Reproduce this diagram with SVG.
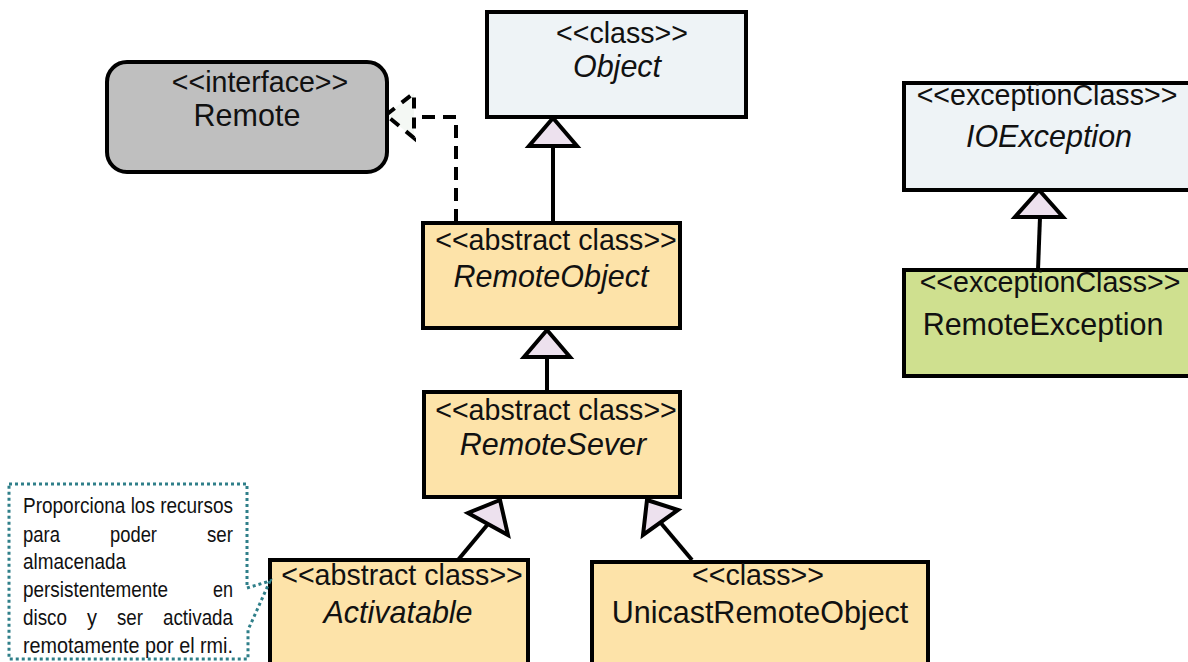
<svg xmlns="http://www.w3.org/2000/svg" width="1188" height="662" viewBox="0 0 1188 662">
  <style>
    .box { stroke: #000; stroke-width: 4; }
    .blue { fill: #eef3f6; }
    .orange { fill: #fde3a9; }
    .green { fill: #cfe08f; }
    .gray { fill: #bfbfbf; }
    .st { font-family: "Liberation Sans", Arial, sans-serif; font-size: 28.6px; fill: #111; text-anchor: middle; }
    .nm { font-family: "Liberation Sans", Arial, sans-serif; font-size: 30.5px; fill: #111; text-anchor: middle; }
    .it { font-style: italic; }
    .line { stroke: #000; stroke-width: 4; fill: none; }
    .tri { fill: #ede1ee; stroke: #000; stroke-width: 4; stroke-linejoin: miter; }
    .dash { stroke: #000; stroke-width: 4; fill: none; stroke-dasharray: 13 8; }
    .note { fill: none; stroke: #2f7f89; stroke-width: 3; stroke-dasharray: 3 3; }
    .nt { font-family: "Liberation Sans Narrow", "Liberation Sans", Arial, sans-serif; font-size: 22px; fill: #111; }
  </style>

  <!-- connectors -->
  <g id="connectors">
    <!-- Object <- RemoteObject -->
    <line class="line" x1="553" y1="146" x2="553" y2="222"/>
    <polygon class="tri" points="553,118 529,146 577,146"/>
    <!-- RemoteObject <- RemoteSever -->
    <line class="line" x1="547" y1="357" x2="547" y2="391"/>
    <polygon class="tri" points="547,330 524,357 570,357"/>
    <!-- RemoteSever <- Activatable -->
    <line class="line" x1="458" y1="560" x2="488" y2="524"/>
    <polygon class="tri" points="500,500 468,513 508,535"/>
    <!-- RemoteSever <- UnicastRemoteObject -->
    <line class="line" x1="692" y1="560" x2="660" y2="522"/>
    <polygon class="tri" points="647,500 678,510 643,535"/>
    <!-- IOException <- RemoteException -->
    <line class="line" x1="1038" y1="270" x2="1040" y2="217"/>
    <polygon class="tri" points="1039,190 1015,217 1063,217"/>
    <!-- RemoteObject realizes Remote -->
    <polyline class="dash" points="456,222 456,117 413,117"/>
    <polygon points="386,115 414,93 414,138" fill="#f4f8f4" stroke="#000" stroke-width="4" stroke-dasharray="11 9"/>
  </g>

  <g id="remote">
    <rect class="box gray" x="107" y="62" width="280" height="110" rx="20"/>
    <text class="st" x="260" y="92">&lt;&lt;interface&gt;&gt;</text>
    <text class="nm" x="247" y="126">Remote</text>
  </g>

  <g id="object">
    <rect class="box blue" x="487" y="12" width="259" height="105"/>
    <text class="st" x="622" y="43">&lt;&lt;class&gt;&gt;</text>
    <text class="nm it" x="617" y="77">Object</text>
  </g>

  <g id="remoteObject">
    <rect class="box orange" x="423" y="223" width="257" height="105"/>
    <text class="st" x="556" y="250">&lt;&lt;abstract class&gt;&gt;</text>
    <text class="nm it" x="551" y="287">RemoteObject</text>
  </g>

  <g id="remoteSever">
    <rect class="box orange" x="424" y="392" width="256" height="105"/>
    <text class="st" x="556" y="420">&lt;&lt;abstract class&gt;&gt;</text>
    <text class="nm it" x="553" y="455">RemoteSever</text>
  </g>

  <g id="activatable">
    <rect class="box orange" x="270" y="560" width="258" height="110"/>
    <text class="st" x="402" y="585">&lt;&lt;abstract class&gt;&gt;</text>
    <text class="nm it" x="398" y="623">Activatable</text>
  </g>

  <g id="unicastRemoteObject">
    <rect class="box orange" x="592" y="562" width="336" height="110"/>
    <text class="st" x="758" y="585">&lt;&lt;class&gt;&gt;</text>
    <text class="nm" x="760" y="623">UnicastRemoteObject</text>
  </g>

  <g id="ioException">
    <rect class="box blue" x="904" y="83" width="300" height="107"/>
    <text class="st" x="1047" y="105">&lt;&lt;exceptionClass&gt;&gt;</text>
    <text class="nm it" x="1049" y="147">IOException</text>
  </g>

  <g id="remoteException">
    <rect class="box green" x="904" y="270" width="300" height="106"/>
    <text class="st" x="1050" y="292">&lt;&lt;exceptionClass&gt;&gt;</text>
    <text class="nm" x="1043" y="335">RemoteException</text>
  </g>

  <!-- comment note attached to Activatable -->
  <g id="note">
    <path class="note" d="M9,484 H247 V588 L270,581 L248,630 V659 H9 Z"/>
    <text class="nt" x="23" y="513" textLength="210" lengthAdjust="spacingAndGlyphs">Proporciona los recursos</text>
    <text class="nt" x="23" y="542" textLength="37" lengthAdjust="spacingAndGlyphs">para</text>
    <text class="nt" x="110" y="542" textLength="47" lengthAdjust="spacingAndGlyphs">poder</text>
    <text class="nt" x="207" y="542" textLength="26" lengthAdjust="spacingAndGlyphs">ser</text>
    <text class="nt" x="23" y="569" textLength="103" lengthAdjust="spacingAndGlyphs">almacenada</text>
    <text class="nt" x="23" y="597" textLength="145" lengthAdjust="spacingAndGlyphs">persistentemente</text>
    <text class="nt" x="213" y="597" textLength="20" lengthAdjust="spacingAndGlyphs">en</text>
    <text class="nt" x="23" y="625" textLength="44" lengthAdjust="spacingAndGlyphs">disco</text>
    <text class="nt" x="87" y="625" textLength="10" lengthAdjust="spacingAndGlyphs">y</text>
    <text class="nt" x="117" y="625" textLength="26" lengthAdjust="spacingAndGlyphs">ser</text>
    <text class="nt" x="163" y="625" textLength="70" lengthAdjust="spacingAndGlyphs">activada</text>
    <text class="nt" x="23" y="653" textLength="210" lengthAdjust="spacingAndGlyphs">remotamente por el rmi.</text>
  </g>
</svg>
